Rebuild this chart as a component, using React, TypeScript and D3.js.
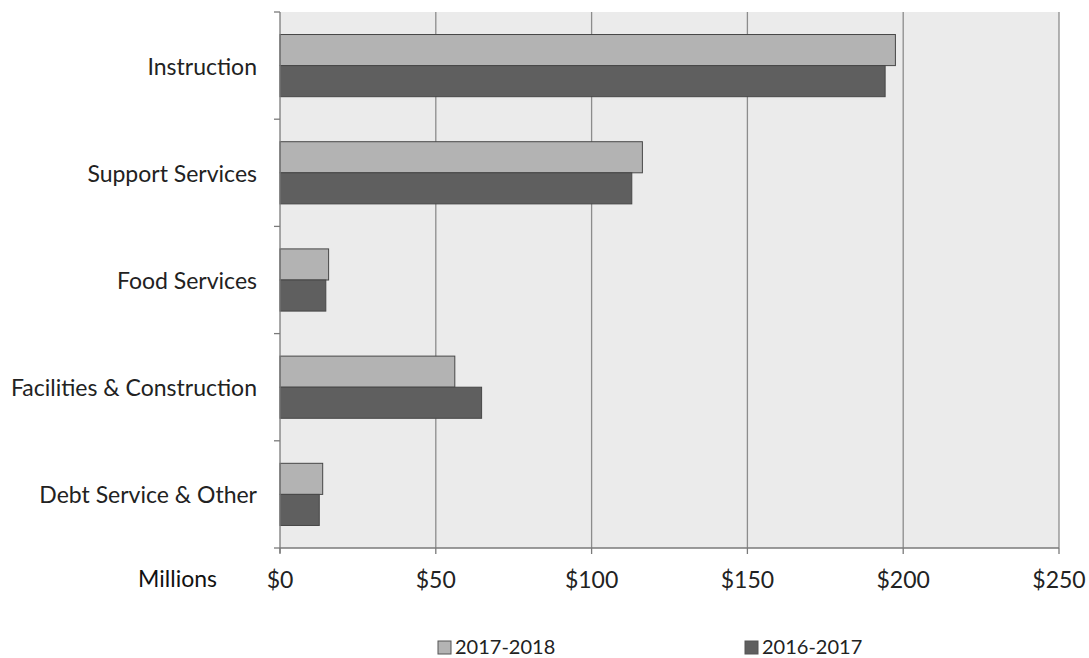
import React from "react";
import * as d3 from "d3";

const categories = ["Instruction", "Support Services", "Food Services", "Facilities & Construction", "Debt Service & Other"];
const seriesNames = ["2017-2018", "2016-2017"];
const values2017_2018 = [197.5, 116.3, 15.6, 56.1, 13.7];
const values2016_2017 = [194.2, 112.9, 14.7, 64.7, 12.6];
const xTicks = [0, 50, 100, 150, 200, 250];
const seriesColors = ["#b3b3b3", "#5f5f5f"];

const W = 1089, H = 658;
const left = 280, right = 1059, top = 12, bottom = 548;
const FONT = "Lato, 'Open Sans', sans-serif";

export default function App() {
  const x = d3.scaleLinear().domain([0, 250]).range([left, right]);
  const y0 = d3.scaleBand().domain(categories).range([top, bottom]).paddingInner(0.42).paddingOuter(0.21);
  const y1 = d3.scaleBand().domain(seriesNames).range([0, y0.bandwidth()]);
  const series = [values2017_2018, values2016_2017];
  const boundaries = d3.range(categories.length + 1).map(i => top + i * (bottom - top) / categories.length);

  return (
    <svg width={W} height={H} style={{ position: "absolute", left: 0, top: 0, background: "#fff" }}>
      <rect x={left} y={top} width={right - left} height={bottom - top} fill="#ebebeb" />
      {xTicks.slice(1).map(t => (
        <line key={"g" + t} x1={x(t)} x2={x(t)} y1={top} y2={bottom} stroke="#8c8c8c" strokeWidth={1.3} />
      ))}
      {categories.map((c, i) => (
        <g key={c}>
          {series.map((vals, s) => (
            <rect key={s}
              x={x(0)} y={(y0(c) as number) + (y1(seriesNames[s]) as number)}
              width={x(vals[i]) - x(0)} height={y1.bandwidth()}
              fill={seriesColors[s]} stroke="#474747" strokeWidth={1} />
          ))}
          <text x={257} y={(y0(c) as number) + y0.bandwidth() / 2} textAnchor="end" dominantBaseline="central"
            fontFamily={FONT} fontSize={23} fill="#222">{c}</text>
        </g>
      ))}
      <line x1={left} x2={left} y1={top} y2={bottom + 5} stroke="#7a7a7a" strokeWidth={1.3} />
      {boundaries.map((b, i) => (
        <line key={"yt" + i} x1={left - 6} x2={left} y1={b} y2={b} stroke="#7a7a7a" strokeWidth={1.3} />
      ))}
      <line x1={left} x2={right} y1={bottom} y2={bottom} stroke="#7a7a7a" strokeWidth={1.3} />
      {xTicks.map(t => (
        <g key={"t" + t}>
          <line x1={x(t)} x2={x(t)} y1={bottom} y2={bottom + 6} stroke="#7a7a7a" strokeWidth={1.3} />
          <text x={x(t)} y={579} textAnchor="middle" dominantBaseline="central" fontFamily={FONT} fontSize={23} fill="#222">{"$" + t}</text>
        </g>
      ))}
      <text x={217} y={578} textAnchor="end" dominantBaseline="central" fontFamily={FONT} fontSize={23} fill="#111">Millions</text>
      {seriesNames.map((n, i) => {
        const lx = i === 0 ? 438 : 745;
        return (
          <g key={n}>
            <rect x={lx} y={641} width={13} height={13} fill={seriesColors[i]} stroke="#555" strokeWidth={1} />
            <text x={lx + 17} y={646} dominantBaseline="central" fontFamily={FONT} fontSize={20} fill="#222">{n}</text>
          </g>
        );
      })}
    </svg>
  );
}
